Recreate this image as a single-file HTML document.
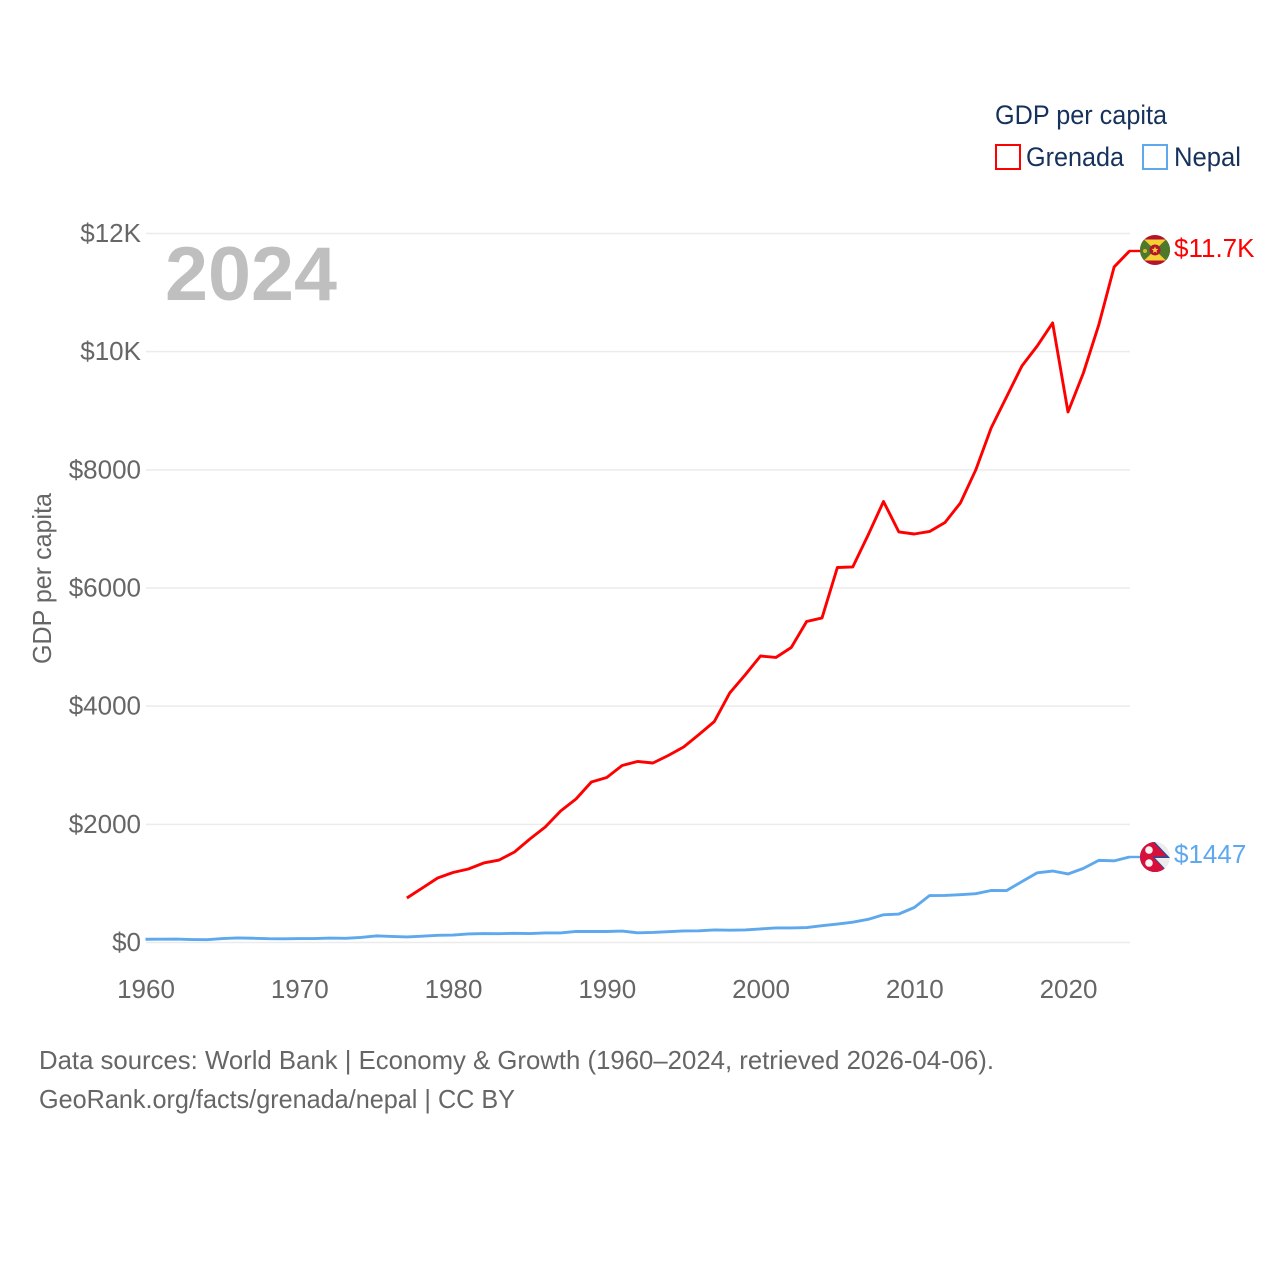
<!DOCTYPE html>
<html>
<head>
<meta charset="utf-8">
<style>
html,body{margin:0;padding:0;background:#fff;}
svg{display:block;font-family:"Liberation Sans",sans-serif;}
</style>
</head>
<body>
<svg id="chart" width="1280" height="1280" viewBox="0 0 1280 1280" xmlns="http://www.w3.org/2000/svg">
  <defs>
    <clipPath id="flag-clip"><circle cx="0" cy="0" r="15"></circle></clipPath>
  </defs>
  <rect x="0" y="0" width="1280" height="1280" fill="#ffffff"></rect>

  <g id="grid"></g>
  <g id="y-ticks"></g>
  <g id="x-ticks"></g>

  <text x="165" y="300" font-size="76" font-weight="700" fill="#bfbfbf" textLength="172" lengthAdjust="spacingAndGlyphs">2024</text>

  <text transform="translate(51,578.5) rotate(-90)" text-anchor="middle" font-size="26" fill="#666666" textLength="171" lengthAdjust="spacingAndGlyphs">GDP per capita</text>

  <path id="line-grenada" fill="none" stroke="#ff0000" stroke-width="2.9" stroke-linejoin="round"></path>
  <path id="line-nepal" fill="none" stroke="#5ea8ee" stroke-width="2.9" stroke-linejoin="round"></path>
  <line id="leader-grenada" x2="1140" stroke="#ff0000" stroke-width="2.4"></line>
  <line id="leader-nepal" x2="1140" stroke="#5ea8ee" stroke-width="2.4"></line>

  <g id="flag-grenada">
    <g clip-path="url(#flag-clip)">
      <rect x="-16" y="-16" width="32" height="32" fill="#b5122e"></rect>
      <polygon points="0,0 -11,-10.5 -16,-10.5 -16,10.5 -11,10.5" fill="#4d7a2a"></polygon>
      <polygon points="0,0 11,-10.5 16,-10.5 16,10.5 11,10.5" fill="#4d7a2a"></polygon>
      <polygon points="0,0 -11,-10.5 11,-10.5" fill="#f5d033"></polygon>
      <polygon points="0,0 -11,10.5 11,10.5" fill="#f5d033"></polygon>
      <circle cx="0" cy="0" r="5.5" fill="#b5122e"></circle>
      <polygon points="0,-3.6 1,-1.1 3.5,-1.1 1.5,0.6 2.2,3 0,1.6 -2.2,3 -1.5,0.6 -3.5,-1.1 -1,-1.1" fill="#f5d033"></polygon>
      <circle cx="-10" cy="1" r="2" fill="#d9b92f"></circle>
    </g>
  </g>
  <g id="flag-nepal">
    <g clip-path="url(#flag-clip)">
      <rect x="-16" y="-16" width="32" height="32" fill="#ececec"></rect>
      <polygon points="-16,-17 -2,-17 15,1 0,1 15,17 -16,17" fill="#1a4f9c"></polygon>
      <polygon points="-16,-17 -3.5,-17 12,-0.5 -2.5,-0.5 12.5,15.5 -16,17" fill="#d80f3a"></polygon>
      <circle cx="-6" cy="-7" r="3.8" fill="#f4f4f4"></circle>
      <circle cx="-6" cy="6" r="3.8" fill="#f4f4f4"></circle>
    </g>
  </g>

  <text id="label-grenada" x="1174" font-size="26" fill="#ff0000"></text>
  <text id="label-nepal" x="1174" font-size="26" fill="#5ea8ee"></text>

  <g>
    <text x="995" y="124" font-size="27" fill="#16325c" textLength="172" lengthAdjust="spacingAndGlyphs">GDP per capita</text>
    <rect x="996" y="145" width="24" height="24" fill="#ffffff" stroke="#ff0000" stroke-width="2"></rect>
    <text x="1026" y="166" font-size="27" fill="#16325c" textLength="98" lengthAdjust="spacingAndGlyphs">Grenada</text>
    <rect x="1143" y="145" width="24" height="24" fill="#ffffff" stroke="#5ea8ee" stroke-width="2"></rect>
    <text x="1174" y="166" font-size="27" fill="#16325c" textLength="67" lengthAdjust="spacingAndGlyphs">Nepal</text>
  </g>

  <text x="39" y="1069" font-size="26" fill="#666666" textLength="955" lengthAdjust="spacingAndGlyphs">Data sources: World Bank | Economy &amp; Growth (1960–2024, retrieved 2026-04-06).</text>
  <text x="39" y="1108" font-size="26" fill="#666666" textLength="476" lengthAdjust="spacingAndGlyphs">GeoRank.org/facts/grenada/nepal | CC BY</text>
</svg>

<script>
const yTickValues = [0, 2000, 4000, 6000, 8000, 10000, 12000];
const yTickLabels = ["$0", "$2000", "$4000", "$6000", "$8000", "$10K", "$12K"];
const xTickYears = [1960, 1970, 1980, 1990, 2000, 2010, 2020];
const grenadaStartYear = 1977;
const grenadaValues = [753, 922, 1092, 1185, 1244, 1346, 1396, 1532, 1752, 1955, 2226, 2429, 2717, 2793, 2996, 3064, 3038, 3165, 3309, 3521, 3741, 4223, 4528, 4849, 4824, 4993, 5433, 5493, 6347, 6356, 6897, 7464, 6948, 6914, 6957, 7109, 7439, 7998, 8708, 9233, 9758, 10097, 10486, 8979, 9639, 10452, 11434, 11704];
const nepalStartYear = 1960;
const nepalValues = [55, 56, 58, 50, 47, 66, 78, 72, 64, 63, 66, 67, 75, 71, 85, 112, 102, 94, 107, 122, 125, 145, 152, 150, 155, 152, 162, 162, 187, 186, 186, 193, 164, 170, 183, 196, 198, 213, 208, 213, 230, 247, 247, 252, 285, 312, 344, 392, 469, 482, 592, 795, 797, 810, 826, 880, 879, 1030, 1180, 1210, 1160, 1255, 1390, 1382, 1447];
const grenadaLabel = "$11.7K";
const nepalLabel = "$1447";

const NS = "http://www.w3.org/2000/svg";
function xScale(year) { return 146 + (year - 1960) * (1130 - 146) / (2024 - 1960); }
function yScale(v) { return 942.5 - v * (942.5 - 233.5) / 12000; }
function linePath(values, startYear) {
  return values.map(function (v, i) {
    return (i ? "L" : "M") + (xScale(startYear + i) - 0.5).toFixed(2) + " " + yScale(v).toFixed(2);
  }).join(" ");
}

const gridG = document.getElementById("grid");
const yG = document.getElementById("y-ticks");
const xG = document.getElementById("x-ticks");

yTickValues.forEach(function (v, i) {
  const ln = document.createElementNS(NS, "line");
  
  
  ln.setAttribute("x1", xScale(1960));
  ln.setAttribute("x2", xScale(2024));
  ln.setAttribute("y1", yScale(v));
  ln.setAttribute("y2", yScale(v));
  ln.setAttribute("stroke", "#ebebeb");
  ln.setAttribute("stroke-width", "1.5");
  gridG.appendChild(ln);

  const t = document.createElementNS(NS, "text");
  
  
  t.setAttribute("x", 141);
  t.setAttribute("y", yScale(v) + 8.5);
  t.setAttribute("text-anchor", "end");
  t.setAttribute("font-size", "26");
  t.setAttribute("fill", "#666666");
  t.textContent = yTickLabels[i];
  yG.appendChild(t);
});

xTickYears.forEach(function (yr) {
  const t = document.createElementNS(NS, "text");
  
  
  t.setAttribute("x", xScale(yr));
  t.setAttribute("y", 998);
  t.setAttribute("text-anchor", "middle");
  t.setAttribute("font-size", "26");
  t.setAttribute("fill", "#666666");
  t.textContent = yr;
  xG.appendChild(t);
});

document.getElementById("line-grenada").setAttribute("d", linePath(grenadaValues, grenadaStartYear));
document.getElementById("line-nepal").setAttribute("d", linePath(nepalValues, nepalStartYear));

const grenadaLast = yScale(grenadaValues[grenadaValues.length - 1]);
const nepalLast = yScale(nepalValues[nepalValues.length - 1]);

const leaderG = document.getElementById("leader-grenada");
leaderG.setAttribute("x1", xScale(2024) - 1);
leaderG.setAttribute("y1", grenadaLast);
leaderG.setAttribute("y2", grenadaLast);
const leaderN = document.getElementById("leader-nepal");
leaderN.setAttribute("x1", xScale(2024) - 1);
leaderN.setAttribute("y1", nepalLast);
leaderN.setAttribute("y2", nepalLast);

document.getElementById("flag-grenada").setAttribute("transform", "translate(1155," + (grenadaLast - 1) + ")");
document.getElementById("flag-nepal").setAttribute("transform", "translate(1155," + nepalLast + ")");

const lg = document.getElementById("label-grenada");
lg.setAttribute("y", grenadaLast + 6);
lg.textContent = grenadaLabel;
const ln2 = document.getElementById("label-nepal");
ln2.setAttribute("y", nepalLast + 6);
ln2.textContent = nepalLabel;
</script>
</body>
</html>
